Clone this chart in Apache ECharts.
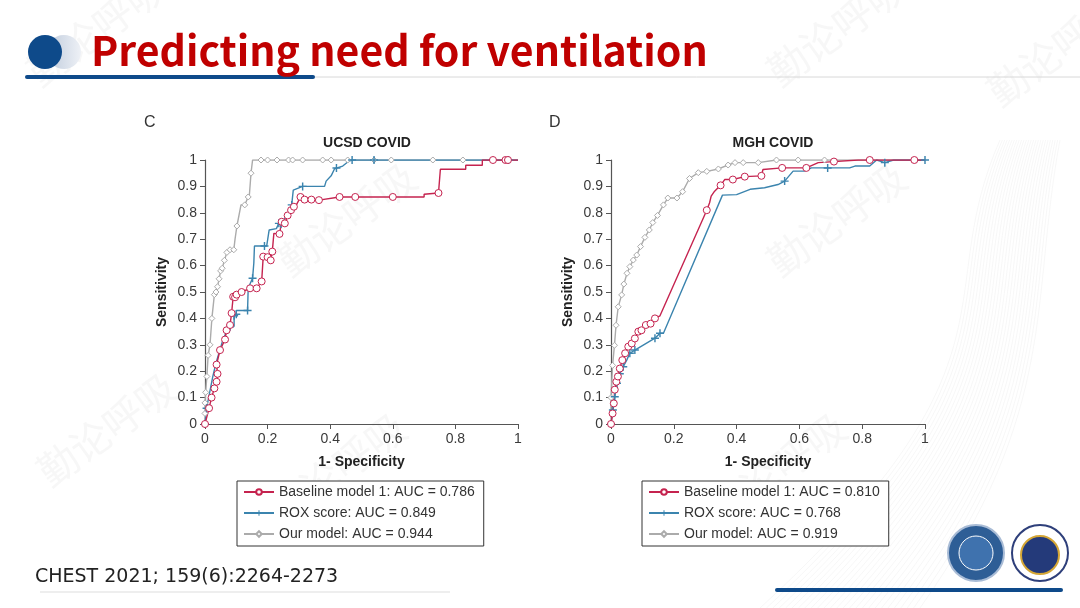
<!DOCTYPE html>
<html>
<head>
<meta charset="utf-8">
<script src="https://cdn.jsdelivr.net/npm/echarts@6/dist/echarts.min.js"></script>
<style>
  html, body { margin: 0; padding: 0; background: #fff; }
  #chart { width: 1080px; height: 608px; }
</style>
</head>
<body>
<div id="chart"></div>
<script>
// points are [1-specificity, sensitivity, tick mark shown (1) or corner (0)]
const ucsdBaseline = [
  [0, 0, 1], [0.013, 0.06, 1], [0.021, 0.10, 1], [0.03, 0.135, 1], [0.037, 0.16, 1], [0.04, 0.19, 1],
  [0.037, 0.225, 1], [0.048, 0.28, 1], [0.064, 0.32, 1], [0.069, 0.355, 1], [0.08, 0.375, 1], [0.085, 0.42, 1],
  [0.09, 0.482, 1], [0.096, 0.48, 1], [0.101, 0.49, 1], [0.117, 0.50, 1], [0.144, 0.514, 1], [0.165, 0.514, 1],
  [0.181, 0.54, 1], [0.186, 0.54, 0], [0.186, 0.634, 1], [0.2, 0.632, 1], [0.21, 0.62, 1], [0.215, 0.653, 1],
  [0.22, 0.653, 0], [0.22, 0.722, 0], [0.238, 0.72, 1], [0.245, 0.766, 1], [0.255, 0.76, 1], [0.264, 0.79, 1],
  [0.275, 0.81, 1], [0.284, 0.823, 1], [0.292, 0.83, 0], [0.305, 0.86, 1], [0.318, 0.85, 1], [0.34, 0.85, 1],
  [0.364, 0.848, 1], [0.43, 0.86, 1], [0.48, 0.86, 1], [0.6, 0.86, 1], [0.7, 0.86, 0], [0.7, 0.87, 0],
  [0.746, 0.875, 1], [0.752, 0.875, 0], [0.752, 0.965, 0], [0.833, 0.965, 0], [0.833, 0.98, 0], [0.886, 0.98, 0],
  [0.886, 1, 0], [0.92, 1, 1], [0.96, 1, 1], [0.968, 1, 1], [1, 1, 0]
];
const ucsdRox = [
  [0, 0, 1], [0.005, 0.06, 1], [0.015, 0.12, 0], [0.025, 0.18, 0], [0.035, 0.23, 0], [0.045, 0.27, 0],
  [0.055, 0.31, 0], [0.065, 0.34, 0], [0.08, 0.368, 1], [0.093, 0.37, 0], [0.093, 0.41, 1], [0.1, 0.416, 1],
  [0.1, 0.43, 0], [0.136, 0.43, 1], [0.138, 0.43, 0], [0.138, 0.515, 0], [0.152, 0.552, 1], [0.156, 0.61, 0],
  [0.158, 0.674, 0], [0.19, 0.674, 1], [0.197, 0.674, 0], [0.205, 0.735, 0], [0.228, 0.74, 0], [0.236, 0.76, 1],
  [0.243, 0.758, 1], [0.267, 0.80, 0], [0.277, 0.83, 1], [0.282, 0.886, 0], [0.312, 0.90, 1], [0.382, 0.90, 0],
  [0.387, 0.92, 0], [0.403, 0.94, 0], [0.414, 0.967, 0], [0.42, 0.97, 1], [0.44, 0.977, 0], [0.46, 0.996, 0],
  [0.47, 1, 1], [0.54, 1, 1], [0.97, 1, 1], [1, 1, 0]
];
const ucsdOurs = [
  [0, 0, 1], [0, 0.04, 1], [0, 0.08, 1], [0.002, 0.12, 1], [0.006, 0.18, 1], [0.01, 0.26, 1],
  [0.016, 0.30, 1], [0.022, 0.40, 1], [0.03, 0.49, 1], [0.035, 0.50, 1], [0.04, 0.52, 1], [0.045, 0.55, 1],
  [0.05, 0.58, 1], [0.055, 0.59, 1], [0.062, 0.62, 1], [0.07, 0.65, 1], [0.08, 0.66, 1], [0.092, 0.66, 1],
  [0.096, 0.70, 0], [0.102, 0.75, 1], [0.105, 0.75, 0], [0.115, 0.83, 0], [0.127, 0.83, 1], [0.138, 0.86, 1],
  [0.142, 0.87, 0], [0.147, 0.95, 1], [0.152, 0.95, 0], [0.152, 1, 0], [0.179, 1, 1], [0.2, 1, 1],
  [0.23, 1, 1], [0.267, 1, 1], [0.28, 1, 1], [0.312, 1, 1], [0.376, 1, 1], [0.403, 1, 1], [0.456, 1, 1],
  [0.54, 1, 1], [0.595, 1, 1], [0.728, 1, 1], [0.824, 1, 1], [0.966, 1, 1], [1, 1, 0]
];

const mghBaseline = [
  [0, 0, 1], [0.005, 0.04, 1], [0.009, 0.078, 1], [0.012, 0.13, 1], [0.017, 0.16, 1], [0.022, 0.18, 1],
  [0.028, 0.21, 1], [0.036, 0.242, 1], [0.045, 0.268, 1], [0.055, 0.293, 1], [0.066, 0.305, 1], [0.076, 0.324, 1],
  [0.087, 0.35, 1], [0.097, 0.355, 1], [0.111, 0.375, 1], [0.126, 0.38, 1], [0.14, 0.40, 1], [0.156, 0.41, 0],
  [0.305, 0.81, 1], [0.314, 0.838, 0], [0.319, 0.863, 0], [0.33, 0.882, 0], [0.349, 0.904, 1], [0.362, 0.926, 0],
  [0.388, 0.926, 1], [0.426, 0.937, 1], [0.479, 0.94, 1], [0.484, 0.964, 0], [0.545, 0.97, 1], [0.622, 0.97, 1],
  [0.66, 0.99, 0], [0.71, 0.994, 1], [0.787, 1, 0], [0.824, 1, 1], [0.966, 1, 1], [1, 1, 0]
];
const mghRox = [
  [0, 0, 1], [0.006, 0.053, 1], [0.012, 0.103, 1], [0.019, 0.154, 1], [0.028, 0.19, 1], [0.039, 0.217, 1],
  [0.05, 0.242, 0], [0.06, 0.268, 1], [0.076, 0.28, 1], [0.14, 0.325, 1], [0.156, 0.344, 1], [0.167, 0.344, 0],
  [0.355, 0.867, 0], [0.4, 0.869, 0], [0.443, 0.889, 0], [0.489, 0.895, 0], [0.532, 0.907, 0], [0.553, 0.92, 1],
  [0.58, 0.958, 0], [0.617, 0.958, 0], [0.638, 0.97, 0], [0.69, 0.97, 1], [0.76, 0.97, 0], [0.777, 0.977, 0],
  [0.824, 0.977, 0], [0.846, 1, 0], [0.872, 0.99, 1], [0.9, 1, 0], [1, 1, 1]
];
const mghOurs = [
  [0, 0, 1], [0, 0.10, 1], [0.005, 0.222, 1], [0.011, 0.298, 1], [0.016, 0.374, 1], [0.023, 0.444, 1],
  [0.034, 0.489, 1], [0.041, 0.53, 1], [0.051, 0.571, 1], [0.06, 0.596, 1], [0.071, 0.621, 1], [0.082, 0.64, 1],
  [0.094, 0.672, 1], [0.108, 0.707, 1], [0.122, 0.735, 1], [0.133, 0.763, 1], [0.148, 0.79, 1], [0.167, 0.83, 1],
  [0.181, 0.856, 1], [0.21, 0.856, 1], [0.228, 0.88, 1], [0.25, 0.93, 1], [0.278, 0.952, 1], [0.305, 0.957, 1],
  [0.342, 0.966, 1], [0.373, 0.981, 1], [0.395, 0.99, 1], [0.421, 0.99, 1], [0.469, 0.99, 1], [0.527, 1, 1],
  [0.596, 1, 1], [0.68, 1, 1], [1, 1, 0]
];

const aucUcsd = ['0.786', '0.849', '0.944'];
const aucMgh = ['0.810', '0.768', '0.919'];
const modelNames = ['Baseline model 1', 'ROX score', 'Our model'];
const yTicks = [0, 0.1, 0.2, 0.3, 0.4, 0.5, 0.6, 0.7, 0.8, 0.9, 1];

const RED = '#C5234F';
const BLUE = '#3B84AE';
const GRAY = '#ABABAB';
const PLUS = 'path://M4.1,0H5.9V4.1H10V5.9H5.9V10H4.1V5.9H0V4.1H4.1Z';
const SYMS = ['circle', PLUS, 'diamond'];
const SIZES = [7, 8, 6];
const COLORS = [RED, BLUE, GRAY];
// hollow markers for circle and diamond, solid cross for ROX
const FILLS = ['#fff', BLUE, '#fff'];
const FONT = 'Liberation Sans, Arial, sans-serif';

function mk(pts, sym) {
  return pts.map(p => ({ value: [p[0], p[1]], symbol: p[2] ? sym : 'none' }));
}

function names(auc) {
  return modelNames.map((n, i) => n + ': AUC = ' + auc[i]);
}

function seriesFor(idx, curves, auc) {
  const nm = names(auc);
  // gray first so the others sit on top, red last
  return [2, 1, 0].map(i => ({
    type: 'line',
    name: nm[i],
    xAxisIndex: idx,
    yAxisIndex: idx,
    data: mk(curves[i], SYMS[i]),
    symbol: SYMS[i],
    symbolSize: SIZES[i],
    showSymbol: true,
    showAllSymbol: true,
    lineStyle: { color: COLORS[i], width: 1.4 },
    itemStyle: { color: FILLS[i], borderColor: COLORS[i], borderWidth: i === 1 ? 0 : 1 },
    emphasis: { disabled: true }
  }));
}

function xAx(idx) {
  return {
    gridIndex: idx, type: 'value', min: 0, max: 1, interval: 0.2,
    name: '1- Specificity', nameLocation: 'middle', nameGap: 31,
    nameTextStyle: { fontFamily: FONT, fontWeight: 'bold', fontSize: 14, color: '#222' },
    axisLine: { lineStyle: { color: '#555', width: 1.2 } },
    axisTick: { length: 5, lineStyle: { color: '#555' } },
    axisLabel: { fontFamily: FONT, fontSize: 14, color: '#3a3a3a', margin: 8 },
    splitLine: { show: false }
  };
}

function yAx(idx) {
  return {
    gridIndex: idx, type: 'value', min: 0, max: 1, interval: 0.1,
    name: 'Sensitivity', nameLocation: 'middle', nameGap: 36,
    nameTextStyle: { fontFamily: FONT, fontWeight: 'bold', fontSize: 14, color: '#222' },
    axisLine: { show: true, lineStyle: { color: '#555', width: 1.2 } },
    axisTick: { show: true, length: 5, lineStyle: { color: '#555' } },
    axisLabel: {
      fontFamily: FONT, fontSize: 14, color: '#3a3a3a', margin: 8,
      formatter: v => String(yTicks[Math.round(v * 10)])
    },
    splitLine: { show: false }
  };
}

function legendFor(left, auc) {
  return {
    orient: 'vertical', left: left, top: 481,
    data: names(auc),
    itemWidth: 30, itemHeight: 7, itemGap: 7,
    padding: [4, 9, 5, 6],
    borderColor: '#333', borderWidth: 1,
    backgroundColor: '#fff',
    textStyle: { fontFamily: FONT, fontSize: 14, color: '#333' },
    selectedMode: false
  };
}

function watermark(x, y) {
  return {
    type: 'text', x: x, y: y, rotation: Math.PI / 5, z: 0, silent: true,
    style: { text: '勤论呼吸', font: '40px "Noto Sans CJK SC"', fill: 'rgba(180,180,180,0.11)' }
  };
}

// faint wavy texture in the lower right corner of the slide
function swirl(k) {
  const d = k * 4;
  return {
    type: 'bezierCurve', silent: true,
    shape: {
      x1: 1000 + d * 0.6, y1: 140,
      cpx1: 930 + d, cpy1: 300,
      cpx2: 1030 + d * 0.3, cpy2: 360 + d * 0.5,
      x2: 760 + d * 1.6, y2: 608
    },
    style: { stroke: 'rgba(150,150,150,0.08)', lineWidth: 1, fill: null }
  };
}

const chart = echarts.init(document.getElementById('chart'), null, { renderer: 'canvas' });

const swirls = [];
for (let k = 0; k < 26; k++) swirls.push(swirl(k));

const option = {
  animation: false,
  backgroundColor: '#fff',
  title: [
    { text: 'UCSD COVID', left: 362, top: 131, textAlign: 'center',
      textStyle: { fontFamily: FONT, fontWeight: 'bold', fontSize: 14, color: '#222' } },
    { text: 'MGH COVID', left: 768, top: 131, textAlign: 'center',
      textStyle: { fontFamily: FONT, fontWeight: 'bold', fontSize: 14, color: '#222' } }
  ],
  grid: [
    { left: 205, right: 562, top: 160, bottom: 184 },
    { left: 611, right: 155, top: 160, bottom: 184 }
  ],
  xAxis: [xAx(0), xAx(1)],
  yAxis: [yAx(0), yAx(1)],
  legend: [legendFor(237, aucUcsd), legendFor(642, aucMgh)],
  series: [].concat(
    seriesFor(0, [ucsdBaseline, ucsdRox, ucsdOurs], aucUcsd),
    seriesFor(1, [mghBaseline, mghRox, mghOurs], aucMgh)
  ),
  graphic: [
    { type: 'group', z: -1, silent: true, children: swirls },
    watermark(20, 60), watermark(760, 60), watermark(980, 80),
    watermark(270, 250), watermark(760, 250), watermark(30, 460), watermark(260, 500), watermark(700, 500),
    // header
    { type: 'line', shape: { x1: 313, y1: 77, x2: 1080, y2: 77 }, style: { stroke: '#d8d8d8', lineWidth: 1 } },
    { type: 'rect', shape: { x: 25, y: 75, width: 290, height: 4, r: 2 }, style: { fill: '#0E4A8A' } },
    { type: 'circle', shape: { cx: 64, cy: 52, r: 17 },
      style: { fill: new echarts.graphic.LinearGradient(0, 0, 1, 0, [
        { offset: 0, color: '#BFCBDC' }, { offset: 1, color: '#EEF1F6' }]) } },
    { type: 'circle', shape: { cx: 45, cy: 52, r: 17 }, style: { fill: '#0E4A8A' } },
    { type: 'text', x: 91, y: 50,
      style: { text: 'Predicting need for ventilation', font: 'bold 41px "Noto Sans CJK SC", "Noto Sans", sans-serif',
        fill: '#C00000', textVerticalAlign: 'middle' } },
    // panel letters
    { type: 'text', x: 144, y: 123, style: { text: 'C', font: '16px ' + FONT, fill: '#333', textVerticalAlign: 'middle' } },
    { type: 'text', x: 549, y: 123, style: { text: 'D', font: '16px ' + FONT, fill: '#333', textVerticalAlign: 'middle' } },
    // citation
    { type: 'text', x: 35, y: 577,
      style: { text: 'CHEST 2021; 159(6):2264-2273', font: '19px "Comic Sans MS", "DejaVu Sans", sans-serif',
        fill: '#222', textVerticalAlign: 'middle' } },
    { type: 'line', shape: { x1: 40, y1: 592, x2: 450, y2: 592 }, style: { stroke: '#dddddd', lineWidth: 1 } },
    // logos and footer bar
    { type: 'circle', shape: { cx: 976, cy: 553, r: 28 }, style: { fill: '#2E5E96', stroke: '#A9BCD6', lineWidth: 2 } },
    { type: 'circle', shape: { cx: 976, cy: 553, r: 17 }, style: { fill: '#3F72AE', stroke: '#fff', lineWidth: 1 } },
    { type: 'circle', shape: { cx: 1040, cy: 553, r: 28 }, style: { fill: '#fff', stroke: '#2E3F7A', lineWidth: 2 } },
    { type: 'circle', shape: { cx: 1040, cy: 555, r: 19 }, style: { fill: '#243A7A', stroke: '#D4A636', lineWidth: 2 } },
    { type: 'rect', shape: { x: 775, y: 588, width: 288, height: 4, r: 2 }, style: { fill: '#0E4A8A' } }
  ]
};

chart.setOption(option);
</script>
</body>
</html>
